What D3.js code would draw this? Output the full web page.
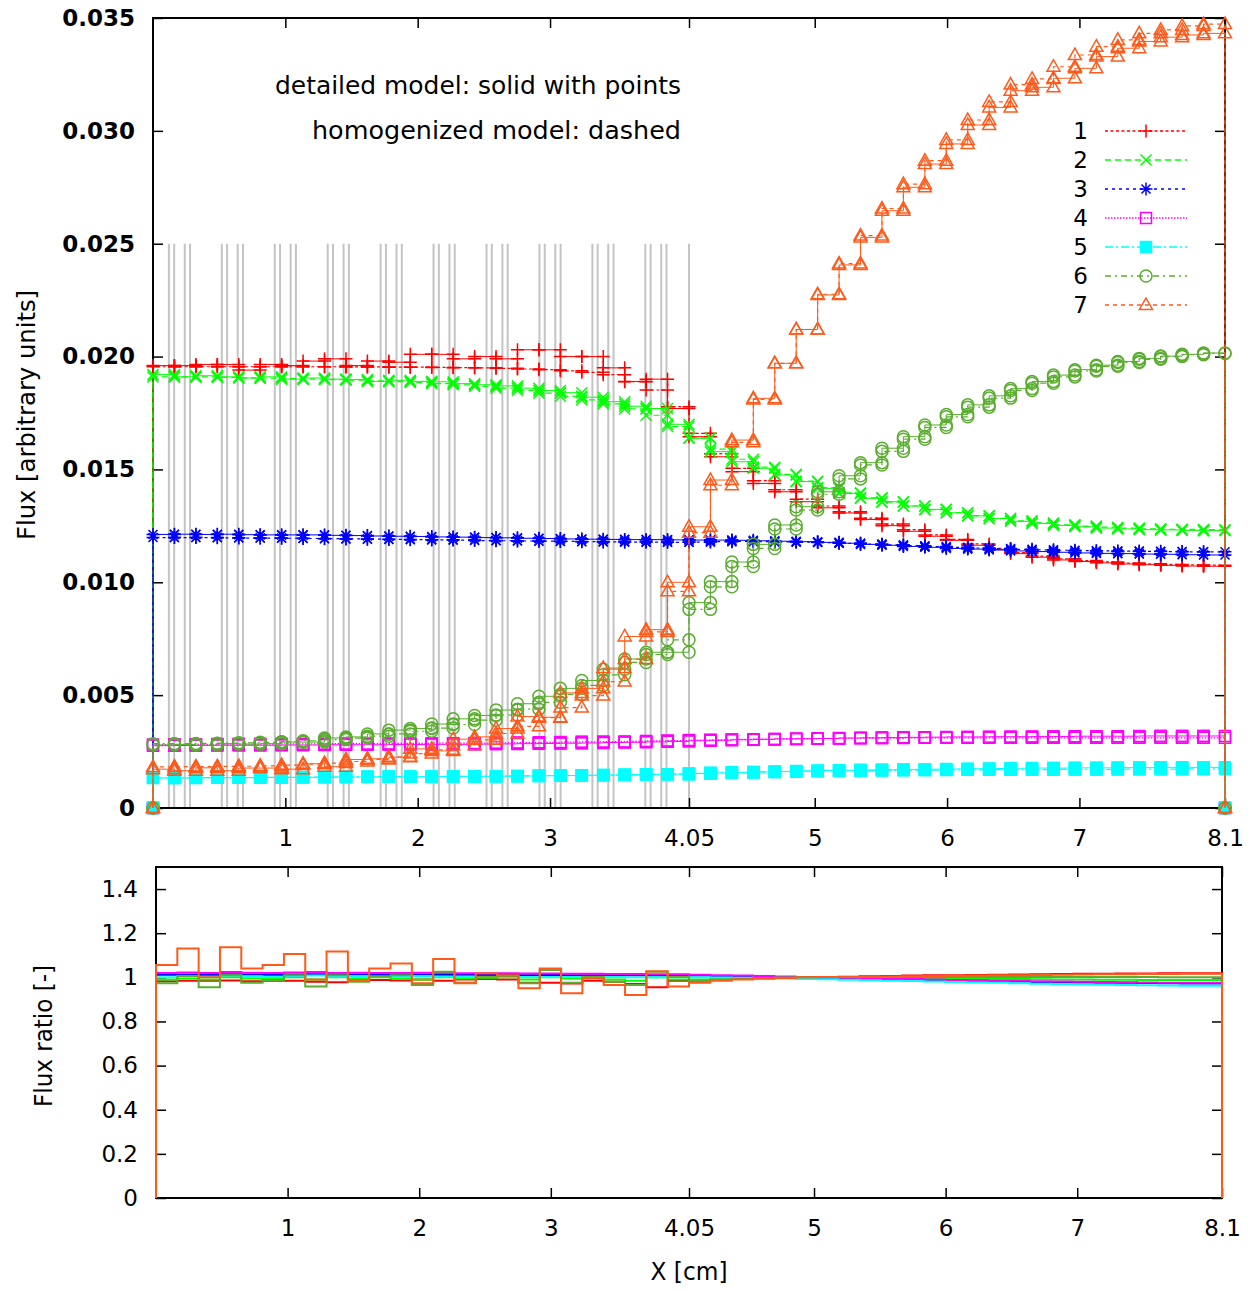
<!DOCTYPE html>
<html>
<head>
<meta charset="utf-8">
<script src="https://cdn.jsdelivr.net/npm/d3@7"></script>
<style>
body { margin: 0; background: #fff; }
text { font-family: "DejaVu Sans", sans-serif; }
</style>
</head>
<body>
<div id="chart"></div>
<script>
//bin edges along X [cm] (50 bins over 0..8.1)
const xEdges = [0, 0.162, 0.324, 0.486, 0.648, 0.81, 0.972, 1.134, 1.296, 1.458, 1.62, 1.782, 1.944, 2.106, 2.268, 2.43, 2.592, 2.754, 2.916, 3.078, 3.24, 3.402, 3.564, 3.726, 3.888, 4.05, 4.212, 4.374, 4.536, 4.698, 4.86, 5.022, 5.184, 5.346, 5.508, 5.67, 5.832, 5.994, 6.156, 6.318, 6.48, 6.642, 6.804, 6.966, 7.128, 7.29, 7.452, 7.614, 7.776, 7.938, 8.1];

//material boundaries in the fuel part (grey lines)
const pinLines = [0.12, 0.16, 0.24, 0.28, 0.52, 0.56, 0.64, 0.68, 0.92, 0.96, 1.04, 1.08, 1.32, 1.36, 1.44, 1.48, 1.72, 1.76, 1.84, 1.88, 2.12, 2.16, 2.24, 2.28, 2.52, 2.56, 2.64, 2.68, 2.92, 2.96, 3.04, 3.08, 3.32, 3.36, 3.44, 3.48, 3.72, 3.76, 3.84, 3.88, 4.05];

const groupNames = ["1", "2", "3", "4", "5", "6", "7"];
const xTicks = [1, 2, 3, 4.05, 5, 6, 7, 8.1];
const fluxTicks = [0, 0.005, 0.010, 0.015, 0.020, 0.025, 0.030, 0.035];
const ratioTicks = [0, 0.2, 0.4, 0.6, 0.8, 1, 1.2, 1.4];

//detailed model (solid with points)
const det1 = [0.0196, 0.0196, 0.01965, 0.01965, 0.0194, 0.01965, 0.0196, 0.0198, 0.0199, 0.0196, 0.0198, 0.01975, 0.0201, 0.0201, 0.0199, 0.0200, 0.0199, 0.0203, 0.0203, 0.0200, 0.0200, 0.0195, 0.0189, 0.0190, 0.0177,
	0.01645, 0.01556, 0.0149, 0.01438, 0.01401, 0.01357, 0.0133, 0.01307, 0.01278, 0.01251, 0.01226, 0.01204, 0.01186, 0.01164, 0.01145, 0.01127, 0.01111, 0.01099, 0.01092, 0.01086, 0.01081, 0.01078, 0.01075, 0.01072, 0.01071];
const det2 = [0.0192, 0.0191, 0.01915, 0.0191, 0.01905, 0.0191, 0.019, 0.01905, 0.019, 0.01898, 0.0189, 0.01895, 0.0189, 0.01888, 0.0188, 0.01875, 0.0187, 0.0186, 0.0185, 0.0184, 0.0182, 0.018, 0.0178, 0.0177, 0.0170,
	0.01638, 0.01579, 0.01534, 0.01505, 0.01475, 0.01446, 0.01416, 0.01394, 0.01372, 0.01357, 0.01338, 0.01323, 0.01308, 0.01294, 0.01282, 0.0127, 0.01261, 0.01252, 0.01246, 0.0124, 0.01236, 0.01233, 0.01232, 0.0123, 0.01229];
const det3 = [0.01212, 0.01213, 0.01212, 0.01213, 0.01211, 0.0121, 0.0121, 0.0121, 0.01208, 0.01207, 0.01205, 0.01204, 0.01203, 0.01201, 0.012, 0.01198, 0.01197, 0.01195, 0.01194, 0.01192, 0.01191, 0.0119, 0.01189, 0.01189, 0.01188,
	0.01187, 0.01187, 0.01186, 0.01184, 0.01182, 0.0118, 0.01177, 0.01173, 0.01168, 0.01164, 0.01159, 0.01155, 0.0115, 0.01147, 0.01143, 0.01139, 0.01136, 0.01133, 0.0113, 0.01128, 0.01127, 0.01125, 0.01124, 0.01122, 0.01121];
const det4 = [0.00276, 0.00277, 0.00277, 0.00278, 0.00278, 0.00278, 0.00279, 0.00279, 0.0028, 0.0028, 0.0028, 0.00281, 0.00281, 0.00282, 0.00282, 0.00283, 0.00284, 0.00285, 0.00286, 0.00287, 0.00288, 0.0029, 0.00291, 0.00293, 0.00295,
	0.00298, 0.003, 0.00302, 0.00304, 0.00306, 0.00307, 0.00308, 0.0031, 0.00311, 0.00312, 0.00313, 0.00314, 0.00315, 0.00315, 0.00316, 0.00316, 0.00317, 0.00317, 0.00318, 0.00318, 0.00318, 0.00319, 0.00319, 0.00319, 0.00319];
const det5 = [0.00133, 0.00133, 0.00134, 0.00134, 0.00135, 0.00135, 0.00136, 0.00136, 0.00137, 0.00137, 0.00138, 0.00138, 0.00139, 0.00139, 0.0014, 0.0014, 0.00141, 0.00142, 0.00143, 0.00144, 0.00145, 0.00146, 0.00147, 0.00149, 0.0015,
	0.00153, 0.00156, 0.00158, 0.0016, 0.00162, 0.00164, 0.00166, 0.00167, 0.00169, 0.0017, 0.00171, 0.00172, 0.00173, 0.00174, 0.00175, 0.00176, 0.00177, 0.00177, 0.00178, 0.00178, 0.00179, 0.00179, 0.0018, 0.0018, 0.0018];
const det6 = [0.00279, 0.00281, 0.00278, 0.00285, 0.00283, 0.00285, 0.00292, 0.00292, 0.0031, 0.00315, 0.00328, 0.00345, 0.00352, 0.00372, 0.00395, 0.0041, 0.00434, 0.00462, 0.00495, 0.0053, 0.00565, 0.00615, 0.0066, 0.0069, 0.0069,
	0.0091, 0.01003, 0.0109, 0.01168, 0.01254, 0.01335, 0.01401, 0.01472, 0.0153, 0.01594, 0.01645, 0.01697, 0.01743, 0.01786, 0.01826, 0.01858, 0.0189, 0.01918, 0.01942, 0.01962, 0.01978, 0.01992, 0.02002, 0.0201, 0.02016];
const det7 = [0.00172, 0.00165, 0.00178, 0.00165, 0.00177, 0.00177, 0.00172, 0.00196, 0.00183, 0.00215, 0.00218, 0.00225, 0.00262, 0.00253, 0.00305, 0.00315, 0.00352, 0.00405, 0.00402, 0.0051, 0.0053, 0.0062, 0.0076, 0.0079, 0.0100,
	0.01246, 0.01453, 0.0163, 0.01815, 0.0197, 0.0212, 0.02273, 0.02406, 0.02528, 0.02646, 0.0275, 0.02853, 0.02942, 0.03026, 0.03104, 0.03178, 0.03193, 0.03233, 0.03277, 0.03329, 0.03366, 0.03396, 0.03415, 0.03425, 0.03432];

//homogenized model (dashed)
const hom1 = [0.01955, 0.01955, 0.01955, 0.01955, 0.01955, 0.01955, 0.01955, 0.01955, 0.01955, 0.01954, 0.01954, 0.01953, 0.01953, 0.01952, 0.01951, 0.0195, 0.01948, 0.01945, 0.01942, 0.01937, 0.0193, 0.0192, 0.01889, 0.01852, 0.01778,
	0.0166, 0.0157, 0.01505, 0.0145, 0.0141, 0.01368, 0.01338, 0.01312, 0.01284, 0.01258, 0.01233, 0.0121, 0.0119, 0.0117, 0.0115, 0.01132, 0.01116, 0.01104, 0.01096, 0.0109, 0.01085, 0.01082, 0.01079, 0.01077, 0.01076];
const hom2 = [0.0191, 0.0191, 0.0191, 0.01908, 0.01906, 0.01904, 0.01902, 0.019, 0.01898, 0.01895, 0.01892, 0.01889, 0.01885, 0.0188, 0.01875, 0.01868, 0.0186, 0.0185, 0.01838, 0.01824, 0.01808, 0.0179, 0.01768, 0.0174, 0.0169,
	0.0164, 0.0159, 0.01545, 0.0151, 0.01478, 0.01448, 0.0142, 0.01396, 0.01374, 0.01355, 0.01338, 0.01322, 0.01308, 0.01295, 0.01283, 0.01272, 0.01263, 0.01255, 0.01249, 0.01244, 0.0124, 0.01237, 0.01235, 0.01234, 0.01233];
const hom3 = [0.01198, 0.01198, 0.01198, 0.01197, 0.01196, 0.01196, 0.01195, 0.01194, 0.01193, 0.01192, 0.01191, 0.0119, 0.01189, 0.01188, 0.01187, 0.01185, 0.01184, 0.01183, 0.01182, 0.01181, 0.0118, 0.01179, 0.01178, 0.01178, 0.01177,
	0.01178, 0.0118, 0.01181, 0.0118, 0.01179, 0.01178, 0.01176, 0.01173, 0.01169, 0.01166, 0.01162, 0.01158, 0.01155, 0.01152, 0.01149, 0.01146, 0.01144, 0.01142, 0.0114, 0.01139, 0.01138, 0.01137, 0.01136, 0.01135, 0.01135];
const hom4 = [0.00281, 0.00282, 0.00282, 0.00283, 0.00283, 0.00283, 0.00284, 0.00284, 0.00285, 0.00285, 0.00285, 0.00286, 0.00286, 0.00287, 0.00287, 0.00288, 0.00289, 0.0029, 0.00291, 0.00292, 0.00293, 0.00294, 0.00295, 0.00297, 0.00299,
	0.00301, 0.00302, 0.00304, 0.00305, 0.00306, 0.00307, 0.00308, 0.00309, 0.0031, 0.0031, 0.00311, 0.00311, 0.00311, 0.00311, 0.00311, 0.00311, 0.00311, 0.00311, 0.00311, 0.00311, 0.00311, 0.00311, 0.00311, 0.00311, 0.00311];
const hom5 = [0.00134, 0.00134, 0.00135, 0.00135, 0.00135, 0.00136, 0.00136, 0.00137, 0.00137, 0.00138, 0.00138, 0.00139, 0.00139, 0.0014, 0.0014, 0.00141, 0.00141, 0.00142, 0.00143, 0.00144, 0.00145, 0.00146, 0.00147, 0.00149, 0.0015,
	0.00153, 0.00155, 0.00157, 0.00159, 0.00161, 0.00163, 0.00164, 0.00165, 0.00166, 0.00167, 0.00168, 0.00168, 0.00169, 0.00169, 0.0017, 0.0017, 0.0017, 0.00171, 0.00171, 0.00171, 0.00172, 0.00172, 0.00172, 0.00173, 0.00173];
const hom6 = [0.00285, 0.00285, 0.00286, 0.00287, 0.00289, 0.00291, 0.00294, 0.00298, 0.00303, 0.0031, 0.00318, 0.00328, 0.0034, 0.00354, 0.0037, 0.00389, 0.00412, 0.00438, 0.00468, 0.00503, 0.00543, 0.0059, 0.00645, 0.0068, 0.00745,
	0.0088, 0.0098, 0.0107, 0.0115, 0.01236, 0.0132, 0.0139, 0.01458, 0.0152, 0.0158, 0.01634, 0.01686, 0.01733, 0.01776, 0.01816, 0.0185, 0.01882, 0.0191, 0.01936, 0.01957, 0.01974, 0.01988, 0.02, 0.02008, 0.02014];
const hom7 = [0.00182, 0.00183, 0.00183, 0.00184, 0.00185, 0.00187, 0.0019, 0.00194, 0.00199, 0.00206, 0.00215, 0.00227, 0.00241, 0.00258, 0.00278, 0.00302, 0.0033, 0.00362, 0.004, 0.00445, 0.00498, 0.0056, 0.0066, 0.0078, 0.0096,
	0.0122, 0.0143, 0.0162, 0.0181, 0.0197, 0.0212, 0.02276, 0.02412, 0.02536, 0.02656, 0.02764, 0.02868, 0.0296, 0.03048, 0.03128, 0.03205, 0.0323, 0.03284, 0.03336, 0.03373, 0.03403, 0.03432, 0.03447, 0.03465, 0.03473];

//flux ratio (lower panel)
const ratio1 = [0.982, 0.985, 0.984, 0.986, 0.982, 0.984, 0.985, 0.98, 0.978, 0.985, 0.988, 0.986, 0.99, 0.985, 0.99, 0.992, 0.99, 0.975, 0.975, 0.972, 0.985, 0.98, 0.97, 0.955, 0.985,
	0.985, 0.99, 0.993, 0.996, 0.998, 1.0, 1.001, 1.003, 1.005, 1.006, 1.008, 1.009, 1.01, 1.011, 1.012, 1.013, 1.014, 1.015, 1.016, 1.016, 1.017, 1.017, 1.018, 1.018, 1.018];
const ratio2 = [0.99, 0.995, 0.99, 1.0, 0.995, 0.993, 1.0, 0.99, 1.0, 0.995, 1.0, 0.995, 0.99, 1.0, 0.995, 0.998, 1.0, 0.99, 1.0, 0.995, 0.998, 0.99, 0.985, 1.0, 0.99,
	0.99, 0.993, 0.995, 0.997, 0.998, 0.999, 1.0, 1.0, 0.999, 0.998, 0.997, 0.996, 0.995, 0.994, 0.993, 0.992, 0.991, 0.99, 0.99, 0.989, 0.989, 0.988, 0.988, 0.988, 0.988];
const ratio3 = [1.012, 1.013, 1.012, 1.014, 1.013, 1.012, 1.013, 1.014, 1.012, 1.013, 1.012, 1.012, 1.013, 1.012, 1.012, 1.011, 1.012, 1.01, 1.011, 1.01, 1.01, 1.01, 1.009, 1.01, 1.009,
	1.008, 1.006, 1.004, 1.002, 1.001, 1.0, 0.998, 0.996, 0.994, 0.992, 0.99, 0.988, 0.986, 0.984, 0.982, 0.981, 0.979, 0.978, 0.977, 0.976, 0.975, 0.974, 0.973, 0.972, 0.972];
const ratio4 = [1.02, 1.022, 1.02, 1.024, 1.021, 1.02, 1.022, 1.024, 1.02, 1.021, 1.02, 1.02, 1.021, 1.02, 1.019, 1.018, 1.018, 1.017, 1.017, 1.016, 1.016, 1.015, 1.015, 1.014, 1.014,
	1.012, 1.01, 1.008, 1.006, 1.004, 1.002, 1.0, 0.998, 0.996, 0.994, 0.992, 0.99, 0.988, 0.987, 0.985, 0.984, 0.982, 0.981, 0.98, 0.979, 0.978, 0.977, 0.976, 0.975, 0.975];
const ratio5 = [1.0, 1.005, 1.002, 1.008, 1.004, 1.002, 1.006, 1.008, 1.004, 1.005, 1.003, 1.004, 1.005, 1.003, 1.003, 1.002, 1.003, 1.002, 1.002, 1.001, 1.0, 1.001, 1.0, 1.0, 1.0,
	1.0, 0.999, 0.998, 0.997, 0.995, 0.993, 0.991, 0.989, 0.987, 0.985, 0.983, 0.981, 0.979, 0.977, 0.975, 0.973, 0.971, 0.969, 0.968, 0.966, 0.965, 0.964, 0.963, 0.962, 0.962];
const ratio6 = [0.973, 1.006, 0.955, 1.01, 0.976, 0.988, 1.01, 0.958, 1.01, 0.98, 1.003, 1.01, 0.965, 1.025, 0.976, 1.003, 1.006, 0.973, 1.033, 0.976, 1.003, 0.98, 0.965, 1.025, 1.003,
	0.985, 0.99, 0.994, 0.997, 0.999, 1.0, 1.001, 1.001, 1.002, 1.002, 1.002, 1.002, 1.002, 1.002, 1.002, 1.002, 1.002, 1.001, 1.001, 1.001, 1.001, 1.001, 1.0, 1.0, 1.0];
const ratio7 = [1.056, 1.131, 1.0, 1.136, 1.04, 1.056, 1.106, 0.99, 1.117, 0.988, 1.04, 1.063, 0.973, 1.083, 0.973, 1.018, 1.01, 0.95, 1.04, 0.928, 0.996, 0.965, 0.92, 1.028, 0.958,
	0.975, 0.985, 0.99, 0.994, 0.997, 1.0, 1.001, 1.002, 1.003, 1.004, 1.005, 1.006, 1.007, 1.008, 1.009, 1.01, 1.011, 1.012, 1.013, 1.014, 1.014, 1.015, 1.015, 1.016, 1.016];

const groupColors = ["#ff0000", "#00ff00", "#0000ff", "#ff00ff", "#00ffff", "#5aad2f", "#ff5a1a"];
const groupDashes = ["3,2.5", "6,4", "3,4", "1.5,1.5", "8,3,2,3", "6,4,2,4", "4,4"];
const groupMarkers = ["plus", "cross", "star", "box", "fbox", "circle", "triangle"];

//table built from the arrays above
const groups = groupNames.map((name, i) => ({
	name: name,
	det: [det1, det2, det3, det4, det5, det6, det7][i],
	hom: [hom1, hom2, hom3, hom4, hom5, hom6, hom7][i],
	ratio: [ratio1, ratio2, ratio3, ratio4, ratio5, ratio6, ratio7][i],
	color: groupColors[i],
	dash: groupDashes[i],
	marker: groupMarkers[i]
}));

const W = 1249, H = 1290;
const topBox = {left: 153, right: 1225, top: 18, bottom: 808};
const botBox = {left: 156, right: 1222, top: 867, bottom: 1198};

const svg = d3.select("#chart").append("svg")
	.attr("width", W).attr("height", H)
	.style("background", "#fff");

const x1 = d3.scaleLinear().domain([0, 8.1]).range([topBox.left, topBox.right]);
const y1 = d3.scaleLinear().domain([0, 0.035]).range([topBox.bottom, topBox.top]);
const x2 = d3.scaleLinear().domain([0, 8.1]).range([botBox.left, botBox.right]);
const y2 = d3.scaleLinear().domain([0, 1.5]).range([botBox.bottom, botBox.top]);

//histogram outline: starts and ends at zero, every bin gives two vertices
function stepPoints(values) {
	let pts = [[xEdges[0], 0]];
	values.forEach((v, i) => {
		pts.push([xEdges[i], v]);
		pts.push([xEdges[i + 1], v]);
	});
	pts.push([xEdges[xEdges.length - 1], 0]);
	return pts;
}

const markerPaths = {
	plus: "M-6.5,0H6.5M0,-6.5V6.5",
	cross: "M-5.5,-5.5L5.5,5.5M-5.5,5.5L5.5,-5.5",
	star: "M-6.5,0H6.5M0,-6.5V6.5M-4.5,-4.5L4.5,4.5M-4.5,4.5L4.5,-4.5",
	box: "M-5.5,-5.5H5.5V5.5H-5.5Z",
	fbox: "M-5.5,-5.5H5.5V5.5H-5.5Z",
	circle: "M6,0A6,6 0 1,1 -6,0A6,6 0 1,1 6,0Z",
	triangle: "M0,-7L6.5,4.5H-6.5Z"
};

function addMarkers(g, pts, sx, sy, grp) {
	g.selectAll(null)
		.data(pts)
		.enter()
		.append("path")
		.attr("d", markerPaths[grp.marker])
		.attr("transform", d => "translate(" + sx(d[0]) + "," + sy(d[1]) + ")")
		.attr("fill", grp.marker === "fbox" ? grp.color : "none")
		.attr("stroke", grp.color)
		.attr("stroke-width", 1.5);
}

function styleAxis(g) {
	g.select(".domain").remove();
	g.selectAll(".tick line").attr("stroke", "#000").attr("stroke-width", 1.5);
	g.selectAll("text").attr("font-family", "DejaVu Sans").attr("font-size", 23).attr("fill", "#000");
}

const fluxFormat = d => d === 0 ? "0" : d.toFixed(3);
const ratioFormat = d => String(+d.toFixed(1));

// ---------- upper panel ----------
const gTop = svg.append("g");

//grey boundary lines of the fuel zone
gTop.selectAll(".pin")
	.data(pinLines)
	.enter()
	.append("line")
	.attr("x1", d => x1(d)).attr("x2", d => x1(d))
	.attr("y1", y1(0)).attr("y2", y1(0.025))
	.attr("stroke", "#c4c4c4")
	.attr("stroke-width", 2);

gTop.append("rect")
	.attr("x", topBox.left).attr("y", topBox.top)
	.attr("width", topBox.right - topBox.left).attr("height", topBox.bottom - topBox.top)
	.attr("fill", "none").attr("stroke", "#000").attr("stroke-width", 2);

gTop.append("g").attr("transform", "translate(0," + topBox.bottom + ")")
	.call(d3.axisBottom(x1).tickValues(xTicks).tickSizeInner(-10).tickSizeOuter(0).tickPadding(22).tickFormat(d => String(d)))
	.call(styleAxis);
gTop.append("g").attr("transform", "translate(0," + topBox.top + ")")
	.call(d3.axisTop(x1).tickValues(xTicks).tickSizeInner(-10).tickSizeOuter(0).tickFormat(""))
	.call(styleAxis);
gTop.append("g").attr("transform", "translate(" + topBox.left + ",0)")
	.call(d3.axisLeft(y1).tickValues(fluxTicks).tickSizeInner(-10).tickSizeOuter(0).tickPadding(18).tickFormat(fluxFormat))
	.call(styleAxis)
	.selectAll("text").attr("font-weight", "bold");
gTop.append("g").attr("transform", "translate(" + topBox.right + ",0)")
	.call(d3.axisRight(y1).tickValues(fluxTicks).tickSizeInner(-10).tickSizeOuter(0).tickFormat(""))
	.call(styleAxis);

const lineTop = d3.line().x(d => x1(d[0])).y(d => y1(d[1]));

groups.forEach(grp => {
	const gs = gTop.append("g");
	const pd = stepPoints(grp.det);
	const ph = stepPoints(grp.hom);
	gs.append("path").attr("d", lineTop(pd))
		.attr("fill", "none").attr("stroke", grp.color).attr("stroke-width", 1);
	gs.append("path").attr("d", lineTop(ph))
		.attr("fill", "none").attr("stroke", grp.color).attr("stroke-width", 1.2)
		.attr("stroke-dasharray", grp.dash);
	addMarkers(gs, pd, x1, y1, grp);
	addMarkers(gs, ph, x1, y1, grp);
});

//model description
gTop.append("text").attr("x", 681).attr("y", 94).attr("text-anchor", "end")
	.attr("font-size", 24).attr("textLength", 406).attr("lengthAdjust", "spacingAndGlyphs")
	.text("detailed model: solid with points");
gTop.append("text").attr("x", 681).attr("y", 139).attr("text-anchor", "end")
	.attr("font-size", 24).attr("textLength", 369).attr("lengthAdjust", "spacingAndGlyphs")
	.text("homogenized model: dashed");

//legend
const legend = gTop.append("g");
groups.forEach((grp, i) => {
	const ly = 131 + i * 29;
	legend.append("text").attr("x", 1088).attr("y", ly).attr("dy", "0.36em")
		.attr("text-anchor", "end").attr("font-size", 23).text(grp.name);
	legend.append("line").attr("x1", 1105).attr("x2", 1187).attr("y1", ly).attr("y2", ly)
		.attr("stroke", grp.color).attr("stroke-width", 1.3).attr("stroke-dasharray", grp.dash);
	legend.append("path").attr("d", markerPaths[grp.marker])
		.attr("transform", "translate(1146," + ly + ")")
		.attr("fill", grp.marker === "fbox" ? grp.color : "none")
		.attr("stroke", grp.color).attr("stroke-width", 1.5);
});

svg.append("text")
	.attr("transform", "translate(26,415) rotate(-90)")
	.attr("text-anchor", "middle").attr("dy", "0.36em")
	.attr("font-size", 24).attr("textLength", 250).attr("lengthAdjust", "spacingAndGlyphs")
	.text("Flux [arbitrary units]");

// ---------- lower panel ----------
const gBot = svg.append("g");

gBot.append("rect")
	.attr("x", botBox.left).attr("y", botBox.top)
	.attr("width", botBox.right - botBox.left).attr("height", botBox.bottom - botBox.top)
	.attr("fill", "none").attr("stroke", "#000").attr("stroke-width", 2);

gBot.append("g").attr("transform", "translate(0," + botBox.bottom + ")")
	.call(d3.axisBottom(x2).tickValues(xTicks).tickSizeInner(-10).tickSizeOuter(0).tickPadding(22).tickFormat(d => String(d)))
	.call(styleAxis);
gBot.append("g").attr("transform", "translate(0," + botBox.top + ")")
	.call(d3.axisTop(x2).tickValues(xTicks).tickSizeInner(-10).tickSizeOuter(0).tickFormat(""))
	.call(styleAxis);
gBot.append("g").attr("transform", "translate(" + botBox.left + ",0)")
	.call(d3.axisLeft(y2).tickValues(ratioTicks).tickSizeInner(-10).tickSizeOuter(0).tickPadding(18).tickFormat(ratioFormat))
	.call(styleAxis);
gBot.append("g").attr("transform", "translate(" + botBox.right + ",0)")
	.call(d3.axisRight(y2).tickValues(ratioTicks).tickSizeInner(-10).tickSizeOuter(0).tickFormat(""))
	.call(styleAxis);

const lineBot = d3.line().x(d => x2(d[0])).y(d => y2(d[1]));
groups.forEach(grp => {
	gBot.append("path").attr("d", lineBot(stepPoints(grp.ratio)))
		.attr("fill", "none").attr("stroke", grp.color).attr("stroke-width", 2);
});

svg.append("text")
	.attr("transform", "translate(43,1036) rotate(-90)")
	.attr("text-anchor", "middle").attr("dy", "0.36em")
	.attr("font-size", 24).attr("textLength", 142).attr("lengthAdjust", "spacingAndGlyphs")
	.text("Flux ratio [-]");

svg.append("text")
	.attr("x", 689).attr("y", 1271).attr("dy", "0.36em")
	.attr("text-anchor", "middle")
	.attr("font-size", 24).attr("textLength", 77).attr("lengthAdjust", "spacingAndGlyphs")
	.text("X [cm]");
</script>
</body>
</html>
